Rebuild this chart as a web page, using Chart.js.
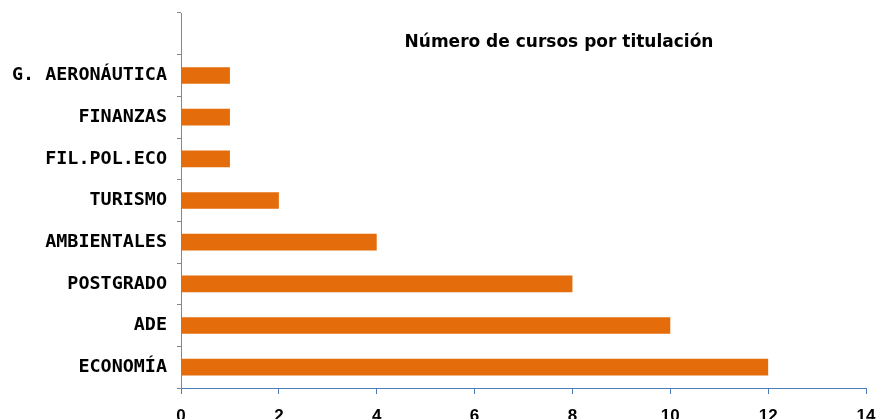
<meta charset="utf8"/>
<style>html,body{margin:0;padding:0;background:#fff;} #wrap{width:878px;height:419px;}</style>
<div id="wrap"><canvas id="_c" width="878" height="419"></canvas></div>
<script src="https://cdn.jsdelivr.net/npm/chart.js"></script>
<script>
// categories top to bottom, first slot left empty like the original
const titulaciones = ['', 'G. AERONÁUTICA', 'FINANZAS', 'FIL.POL.ECO', 'TURISMO', 'AMBIENTALES', 'POSTGRADO', 'ADE', 'ECONOMÍA'];
const cursos = [null, 1, 1, 1, 2, 4, 8, 10, 12];
const xTicks = [0, 2, 4, 6, 8, 10, 12, 14];
const titulo = 'Número de cursos por titulación';

const tituloPlugin = {
	id: 'tituloDentro',
	afterDraw(chart) {
		const {ctx, chartArea} = chart;
		ctx.save();
		ctx.font = 'bold 17px "DejaVu Sans"';
		ctx.fillStyle = '#000';
		ctx.textAlign = 'center';
		ctx.textBaseline = 'middle';
		ctx.fillText(titulo, chartArea.left + 378, chartArea.top + 30);
		ctx.restore();
	}
};

new Chart(_c, {
	type: 'bar',
	data: {
		labels: titulaciones,
		datasets: [{
			data: cursos,
			backgroundColor: '#E46C0A',
			barPercentage: 0.4,
			categoryPercentage: 1,
		}]
	},
	options: {
		indexAxis: 'y',
		responsive: false,
		animation: false,
		layout: {padding: {top: 13, right: 12, left: 0, bottom: 0}},
		plugins: {legend: {display: false}, tooltip: {enabled: false}},
		scales: {
			x: {
				min: 0, max: 14,
				afterBuildTicks: s => { s.ticks = xTicks.map(v => ({value: v})); },
				afterFit: s => { s.height = 31; s.paddingLeft = 0; s.paddingRight = 0; },
				border: {color: '#4A7EBB', width: 1},
				grid: {drawOnChartArea: false, drawTicks: true, tickLength: 6, color: '#4A7EBB'},
				ticks: {color: '#000', padding: 12, font: {family: '"Liberation Sans"', size: 17, weight: 'bold'}},
			},
			y: {
				afterFit: s => { s.width = 181; s.paddingTop = 0; s.paddingBottom = 0; },
				border: {color: '#868686', width: 1},
				grid: {drawOnChartArea: false, drawTicks: true, tickLength: 4, color: '#868686', offset: true},
				ticks: {color: '#000', padding: 10, font: {family: '"DejaVu Sans Mono"', size: 18.4, weight: 'bold'}},
			}
		}
	},
	plugins: [tituloPlugin]
});
</script>
